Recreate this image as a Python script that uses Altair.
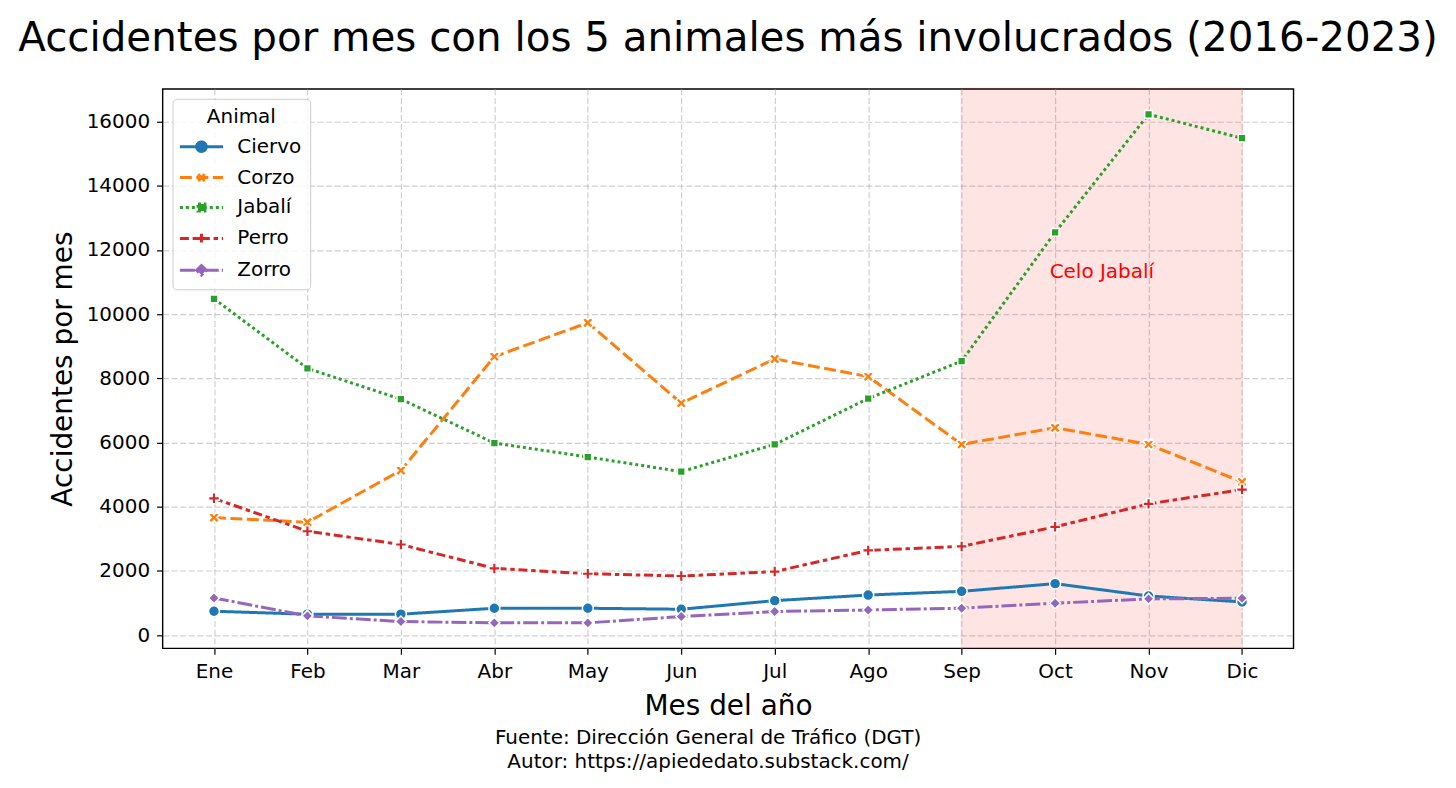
import json
import altair as alt
import pandas as pd

# ---------------- data ----------------
MONTHS = ["Ene", "Feb", "Mar", "Abr", "May", "Jun", "Jul", "Ago", "Sep", "Oct", "Nov", "Dic"]
ANIMALS = ["Ciervo", "Corzo", "Jabalí", "Perro", "Zorro"]
CIERVO = [745, 652, 652, 838, 838, 807, 1075, 1250, 1365, 1605, 1220, 1035]
CORZO = [3663, 3518, 5132, 8677, 9733, 7229, 8605, 8055, 5943, 6462, 5943, 4775]
JABALI = [10480, 8310, 7353, 5985, 5550, 5095, 5943, 7372, 8538, 12548, 16228, 15483]
PERRO = [4263, 3238, 2825, 2080, 1914, 1842, 1980, 2640, 2765, 3375, 4090, 4535]
ZORRO = [1159, 600, 424, 383, 383, 579, 735, 785, 840, 995, 1130, 1150]
SERIES = [CIERVO, CORZO, JABALI, PERRO, ZORRO]

SPAN_START = ["Sep"]
SPAN_END = ["Dic"]
NOTE_TEXT = ["Celo Jabalí"]
NOTE_X = [9.5]
NOTE_Y = [11300]

TITLE = "Accidentes por mes con los 5 animales más involucrados (2016-2023)"
X_TITLE = "Mes del año"
Y_TITLE = "Accidentes por mes"
LEGEND_TITLE = "Animal"
CAPTION = ["Fuente: Dirección General de Tráfico (DGT)", "Autor: https://apiededato.substack.com/"]
Y_TICKS = [0, 2000, 4000, 6000, 8000, 10000, 12000, 14000, 16000]

# ---------------- styles ----------------
FONT = "DejaVu Sans"
COLORS = ["#1f77b4", "#ff7f0e", "#2ca02c", "#d62728", "#9467bd"]
LW = 3
DASHES = [[1, 0], [12, 4.5], [3, 3], [9, 3.75, 4.5, 3.75], [15, 3, 3, 3]]


def poly(pts, k):
    return "M" + "L".join(f"{x / k:.4f},{y / k:.4f}" for x, y in pts) + "Z"


PLUS = poly([(-1, -3), (1, -3), (1, -1), (3, -1), (3, 1), (1, 1), (1, 3), (-1, 3),
             (-1, 1), (-3, 1), (-3, -1), (-1, -1)], 3)
XSHAPE = poly([(-1, -2), (0, -1), (1, -2), (2, -1), (1, 0), (2, 1), (1, 2), (0, 1),
               (-1, 2), (-2, 1), (-1, 0), (-2, -1)], 2)
SQUARE = "M-0.707,-0.707H0.707V0.707H-0.707Z"
SHAPES = ["circle", XSHAPE, SQUARE, PLUS, "diamond"]

# legend symbols: line + marker (units of 6 px, symbolSize 144)
LINE_SEG = "M-3.6,0H3.6"
LEG_PATHS = [
    LINE_SEG + "M-0.8,0A0.8,0.8,0,1,1,0.8,0A0.8,0.8,0,1,1,-0.8,0Z",
    LINE_SEG + "M-0.55,-0.55L0.55,0.55M-0.55,0.55L0.55,-0.55",
    LINE_SEG + "M-0.58,-0.58H0.58V0.58H-0.58Z",
    LINE_SEG + "M0,-0.8V0.8M-0.8,0H0.8",
    LINE_SEG + "M-0.8,0L0,-0.8L0.8,0L0,0.8Z",
]

rows = []
for a, vals in zip(ANIMALS, SERIES):
    for i, v in enumerate(vals):
        rows.append({"Animal": a, "idx": i, "Mes": MONTHS[i], "value": v})
df = pd.DataFrame(rows)

all_vals = [v for s in SERIES for v in s]
lo, hi = min(all_vals), max(all_vals)
marg = 0.05 * (hi - lo)
Y_DOMAIN = [lo - marg, hi + marg]
X_DOMAIN = [-0.55, len(MONTHS) - 1 + 0.55]

W, H = 1134, 561

legend = alt.Legend(
    title=LEGEND_TITLE,
    orient="top-left",
    offset=10,
    fillColor="rgba(255,255,255,0.8)",
    strokeColor="#cccccc",
    cornerRadius=4,
    padding=8,
    rowPadding=10,
    symbolSize=144,
    symbolStrokeWidth=LW,
    symbolOffset=11,
    symbolOpacity=1,
    labelOffset=26,
    titlePadding=10,
    titleAnchor="middle",
    titleAlign="center",
    labelFont=FONT,
    titleFont=FONT,
    labelFontSize=20,
    titleFontSize=20,
    titleFontWeight="normal",
    labelColor="black",
    titleColor="black",
)

x_enc = alt.X(
    "idx:Q",
    scale=alt.Scale(domain=X_DOMAIN, nice=False, zero=False),
    axis=alt.Axis(values=list(range(len(MONTHS))), labelExpr=f"{json.dumps(MONTHS)}[datum.value]",
                  title=X_TITLE, labelOverlap=False, labelFlush=False, labelPadding=7, titlePadding=11),
)
y_enc = alt.Y(
    "value:Q",
    scale=alt.Scale(domain=Y_DOMAIN, nice=False, zero=False),
    axis=alt.Axis(values=Y_TICKS, format="d", title=Y_TITLE, labelPadding=7, titlePadding=9),
)

color_scale = alt.Scale(domain=ANIMALS, range=COLORS)
base = alt.Chart(df)

lines = base.mark_line(strokeWidth=LW).encode(
    x=x_enc,
    y=y_enc,
    color=alt.Color("Animal:N", scale=color_scale, legend=None),
    strokeDash=alt.StrokeDash("Animal:N", scale=alt.Scale(domain=ANIMALS, range=DASHES), legend=None),
)

points = base.mark_point(filled=True, opacity=1, size=121, stroke="white", strokeWidth=1.5).encode(
    x=x_enc,
    y=y_enc,
    color=alt.Color("Animal:N", scale=color_scale, legend=None),
    shape=alt.Shape("Animal:N", scale=alt.Scale(domain=ANIMALS, range=SHAPES), legend=None),
)

# legend-only layer (no marks drawn, only the merged legend)
legend_layer = base.transform_filter("false").mark_point(filled=True, opacity=1, size=144).encode(
    color=alt.Color("Animal:N", scale=color_scale, legend=legend),
    stroke=alt.Stroke("Animal:N", scale=color_scale, legend=legend),
    shape=alt.Shape("Animal:N", scale=alt.Scale(domain=ANIMALS, range=LEG_PATHS), legend=legend),
    strokeDash=alt.StrokeDash("Animal:N", scale=alt.Scale(domain=ANIMALS, range=DASHES), legend=legend),
)

span_df = pd.DataFrame({"start": [MONTHS.index(m) for m in SPAN_START],
                        "end": [MONTHS.index(m) for m in SPAN_END]})
span = alt.Chart(span_df).mark_rect(color="red", opacity=0.1, stroke="red", strokeWidth=2).encode(
    x="start:Q", x2="end:Q", y=alt.value(0), y2=alt.value(H)
)

note_df = pd.DataFrame({"x": NOTE_X, "y": NOTE_Y, "t": NOTE_TEXT})
note = alt.Chart(note_df).mark_text(color="red", fontSize=20, font=FONT, align="center",
                                    baseline="middle").encode(x="x:Q", y="y:Q", text="t:N")

cap_df = pd.DataFrame({"k": [0]})
caption = alt.Chart(cap_df).mark_text(fontSize=20, font=FONT, align="center", baseline="middle",
                                      lineHeight=24, color="black").encode(
    x=alt.value(547), y=alt.value(651), text=alt.value(CAPTION)
)

chart = alt.layer(span, lines, points, note, caption, legend_layer).resolve_scale(
    color="independent", stroke="independent", shape="independent", strokeDash="independent"
).properties(
    width=W,
    height=H,
    title=alt.Title(TITLE, fontSize=40.5, font=FONT, fontWeight="normal", anchor="middle",
                    offset=28, color="black"),
    autosize=alt.AutoSizeParams(type="none"),
    padding={"left": 155, "top": 80, "right": 155, "bottom": 127},
).configure_view(stroke="black", strokeWidth=1.4).configure_axis(
    labelFont=FONT, titleFont=FONT, labelFontSize=20, titleFontSize=28, titleFontWeight="normal",
    labelColor="black", titleColor="black", tickColor="black", tickSize=6, tickWidth=1.2,
    domain=False, gridColor="#b0b0b0", gridOpacity=0.6, gridDash=[6, 2.6], gridWidth=1.2,
).configure_legend(
    titleFont=FONT, labelFont=FONT, titleFontSize=20, labelFontSize=20, titleFontWeight="normal",
)

chart.save("out.html", embed_options={"renderer": "svg", "actions": False})
